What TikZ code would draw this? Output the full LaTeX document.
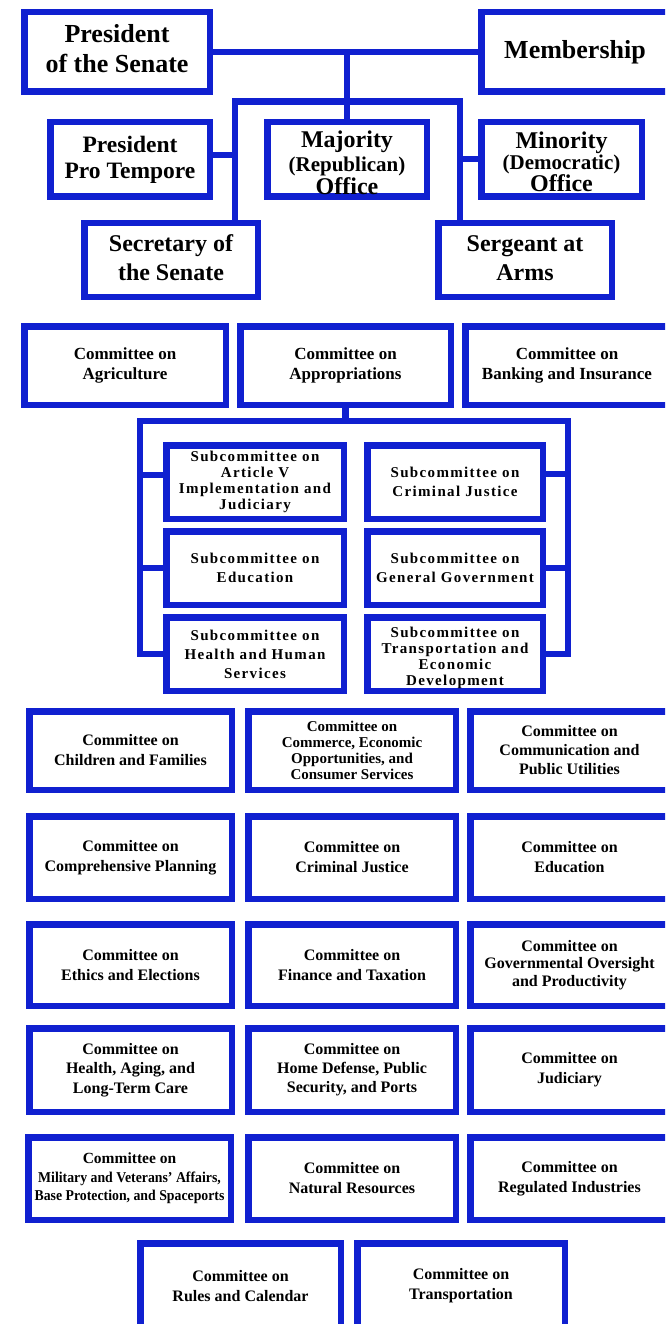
\documentclass[tikz,border=0pt]{standalone}
\usepackage{fontspec}
\setmainfont{Liberation Serif}
\newfontfamily\subfont[LetterSpace=9]{Liberation Serif}
\newfontfamily\condfont[FakeStretch=0.92]{Liberation Serif}
\definecolor{myblue}{RGB}{16,32,208}
\tikzset{
  box/.style={draw=myblue, line width=6.5pt, fill=white, inner sep=0pt, outer sep=0pt, align=center, text=black},
  tx/.style={inner sep=0pt, outer sep=0pt, align=center, text=black},
  conn/.style={draw=myblue, line width=6.5pt, line join=miter},
  big/.style={font=\bfseries\fontsize{26}{30}\selectfont},
  mid/.style={font=\bfseries\fontsize{24}{29}\selectfont},
  com/.style={font=\bfseries\fontsize{16}{20}\selectfont},
  sub/.style={font=\subfont\bfseries\fontsize{15}{19}\selectfont},
  subtight/.style={font=\subfont\bfseries\fontsize{15}{16}\selectfont}
}
\newcommand{\obox}[6][]{\node[box,minimum width={#4-#2-6.5},minimum height={#5-#3-6.5},#1] (#6) at ({(#2+#4)/2},{(#3+#5)/2})}
\begin{document}
\begin{tikzpicture}[x=1pt,y=-1pt]
\useasboundingbox (0,0) rectangle (665,1324);
\clip (0,0) rectangle (665,1324);
\fill[white] (0,0) rectangle (665,1324);

% leadership
\obox{21}{9}{213}{95}{pres} {};
\node[tx,big] (presT) at ([yshift=3pt]pres.center) {President\\of the Senate};
\obox[big]{478}{9}{672}{95}{memb} {Membership};
\obox[font=\bfseries\fontsize{23.5}{26}\selectfont]{47}{119}{213}{200}{protem} {President\\Pro Tempore};
\obox{264}{119}{430}{200}{major} {};
\node[tx,font=\bfseries\fontsize{24}{23.5}\selectfont] (majorT) at ([yshift=-3.5pt]major.center) {Majority\\{\fontsize{21}{23.5}\selectfont(Republican)}\\Office};
\obox{478}{119}{645}{200}{minor} {};
\node[tx,font=\bfseries\fontsize{24}{21.5}\selectfont] (minorT) at ([yshift=-2pt]minor.center) {Minority\\{\fontsize{21}{21.5}\selectfont(Democratic)}\\Office};
\obox{81}{220}{261}{300}{sec} {};
\node[tx,mid] (secT) at ([yshift=2pt]sec.center) {Secretary of\\the Senate};
\obox{435}{220}{615}{300}{serg} {};
\node[tx,mid] (sergT) at ([yshift=2pt]serg.center) {Sergeant at\\Arms};

\coordinate (j1) at (347,50);
\coordinate (bl) at (235,101.5);
\coordinate (br) at (460,101.5);
\coordinate (pl) at (235,155);
\coordinate (pr) at (460,159);
\draw[conn] (pres.east) -- (memb.west);
\draw[conn] (j1) -- (major.north);
\draw[conn] (bl |- sec.north) -- (bl) -- (br) -- (br |- serg.north);
\draw[conn] (pl) -- (pl -| protem.east);
\draw[conn] (pr) -- (pr -| minor.west);

% committees, first row
\obox[font=\bfseries\fontsize{17}{20}\selectfont]{21}{323}{229}{408}{agri} {Committee on\\Agriculture};
\obox[font=\bfseries\fontsize{17}{20}\selectfont]{237}{323}{454}{408}{approp} {Committee on\\Appropriations};
\obox[font=\bfseries\fontsize{17}{20}\selectfont]{462}{323}{672}{408}{bank} {Committee on\\Banking and Insurance};

% subcommittees
\obox[subtight]{163}{442}{347}{522}{s1} {Subcommittee on\\Article V\\Implementation and\\Judiciary};
\obox[sub]{364}{442}{546}{522}{s2} {Subcommittee on\\Criminal Justice};
\obox[sub]{163}{528}{347}{608}{s3} {Subcommittee on\\Education};
\obox[sub]{364}{528}{546}{608}{s4} {Subcommittee on\\General Government};
\obox[sub]{163}{614}{347}{694}{s5} {Subcommittee on\\Health and Human\\Services};
\obox{364}{614}{546}{694}{s6} {};
\node[tx,subtight] (s6T) at ([yshift=-3.5pt]s6.center) {Subcommittee on\\Transportation and\\Economic\\Development};

\coordinate (sbl) at (140,421);
\coordinate (sbr) at (568,421);
\draw[conn] (approp.south) -- (approp.south |- sbl);
\draw[conn] (s5.west) -- (s5.west -| sbl) -- (sbl) -- (sbr) -- (sbr |- s6.east) -- (s6.east);
\draw[conn] ([yshift=7pt]s1.west) -- ([yshift=7pt]s1.west -| sbl);
\draw[conn] ([yshift=8pt]s2.east) -- ([yshift=8pt]s2.east -| sbr);
\draw[conn] (s3.west) -- (s3.west -| sbl);
\draw[conn] (s4.east) -- (s4.east -| sbr);

% row 1
\obox[com]{26}{708}{235}{793}{chil} {Committee on\\Children and Families};
\obox[font=\bfseries\fontsize{15}{16}\selectfont]{245}{708}{459}{793}{comm} {Committee on\\Commerce, Economic\\Opportunities, and\\Consumer Services};
\obox[font=\bfseries\fontsize{16}{19}\selectfont]{467}{708}{672}{793}{cpu} {Committee on\\Communication and\\Public Utilities};
% row 2
\obox[com]{26}{813}{235}{902}{plan} {Committee on\\Comprehensive Planning};
\obox[com]{245}{813}{459}{902}{crim} {Committee on\\Criminal Justice};
\obox[com]{467}{813}{672}{902}{educ} {Committee on\\Education};
% row 3
\obox[com]{26}{921}{235}{1009}{ethi} {Committee on\\Ethics and Elections};
\obox[com]{245}{921}{459}{1009}{fina} {Committee on\\Finance and Taxation};
\obox[font=\bfseries\fontsize{16}{17.5}\selectfont]{467}{921}{672}{1009}{gove} {Committee on\\Governmental Oversight\\and Productivity};
% row 4
\obox[font=\bfseries\fontsize{16}{19.5}\selectfont]{26}{1025}{235}{1115}{heal} {Committee on\\Health, Aging, and\\Long-Term Care};
\obox[font=\bfseries\fontsize{16}{19}\selectfont]{245}{1025}{459}{1115}{home} {Committee on\\Home Defense, Public\\Security, and Ports};
\obox[com]{467}{1025}{672}{1115}{judi} {Committee on\\Judiciary};
% row 5
\obox[font=\bfseries\fontsize{15.5}{18.5}\selectfont]{25}{1134}{234}{1223}{mili} {Committee on\\{\condfont\fontsize{15}{18.5}\selectfont Military and Veterans’ Affairs,}\\{\condfont\fontsize{15}{18.5}\selectfont Base Protection, and Spaceports}};
\obox[com]{245}{1134}{459}{1223}{natu} {Committee on\\Natural Resources};
\obox[com]{467}{1134}{672}{1223}{regu} {Committee on\\Regulated Industries};
% row 6
\obox[com]{137}{1240}{344}{1332}{rule} {Committee on\\Rules and Calendar};
\obox[com]{354}{1240}{568}{1332}{tran} {Committee on\\Transportation};
\end{tikzpicture}
\end{document}
